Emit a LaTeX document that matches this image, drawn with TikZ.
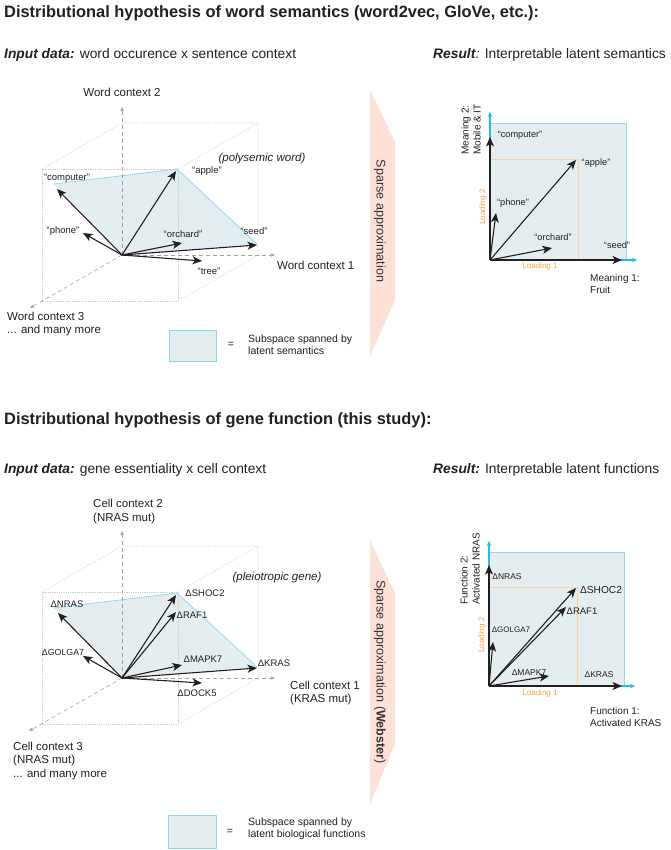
\documentclass[tikz,border=0pt]{standalone}
\usepackage{fontspec}
\setmainfont{Liberation Sans}
\usetikzlibrary{arrows.meta}
\definecolor{ink}{HTML}{231F20}
\definecolor{planefill}{HTML}{E4EEF1}
\definecolor{planeedge}{HTML}{8FD8EF}
\definecolor{cyanax}{HTML}{2DB8E8}
\definecolor{orline}{HTML}{FBD0A8}
\definecolor{ortext}{HTML}{F6A443}
\definecolor{pinkband}{HTML}{FDE1D6}
\definecolor{dotgrey}{HTML}{CACACA}
\definecolor{axgrey}{HTML}{A2A2A2}
\definecolor{bandtext}{HTML}{333333}
\newcommand\fsz[2]{\fontsize{#1}{#2}\selectfont}
\begin{document}
\begin{tikzpicture}[x=1pt,y=-1pt,
  lbl/.style={inner sep=0pt,text=ink,font=\fsz{9.5}{11}},
  slbl/.style={inner sep=0pt,text=ink,font=\fsz{8.5}{10}},
  axlbl/.style={inner sep=0pt,text=ink,font=\fsz{11.5}{13.5},align=left},
  mlbl/.style={inner sep=0pt,text=ink,font=\fsz{10}{12},align=left},
  ttl/.style={inner sep=0pt,text=ink,font=\fsz{16.4}{18}\bfseries},
  subt/.style={inner sep=0pt,text=ink,font=\fsz{13.8}{16}},
  note/.style={inner sep=0pt,text=ink,font=\fsz{11.5}{13}\itshape},
  legtxt/.style={inner sep=0pt,text=ink,font=\fsz{10.5}{12.5},align=left},
  vec/.style={draw=ink,line width=1.1pt,-{Stealth[length=9.5pt,width=8pt,inset=2.5pt]}},
  dashax/.style={draw=axgrey,line width=0.6pt,dash pattern=on 4pt off 3pt,-{Triangle[length=4pt,width=3.2pt]}},
  dotbox/.style={draw=dotgrey,line width=0.6pt,dash pattern=on 0.7pt off 1.1pt},
  pedge/.style={draw=planeedge,line width=0.8pt},
  cyax/.style={draw=cyanax,line width=1.1pt,-{Stealth[length=5pt,width=4.5pt]}},
  orl/.style={draw=orline,line width=0.8pt},
  ortx/.style={inner sep=0pt,text=ortext,font=\fsz{8}{9}},
  legbox/.style={fill=planefill,draw=planeedge,line width=0.8pt},
  bandtx/.style={inner sep=0pt,text=bandtext,font=\fsz{12.6}{14},rotate=-90}
]
\useasboundingbox (0,0) rectangle (670,850);

% ---------------- titles ----------------
\node[ttl,anchor=west] (t1) at (4,13) {Distributional hypothesis of word semantics (word2vec, GloVe, etc.):};
\node[subt,anchor=west] (s1) at (4,55) {\textbf{\textit{Input data:}} word occurence x sentence context};
\node[subt,anchor=west] (r1) at (433,55) {\textbf{\textit{Result}}\textit{:} Interpretable latent semantics};

\node[ttl,anchor=west] (t2) at (4,420) {Distributional hypothesis of gene function (this study):};
\node[subt,anchor=west] (s2) at (4,470) {\textbf{\textit{Input data:}} gene essentiality x cell context};
\node[subt,anchor=west] (r2) at (433,470) {\textbf{\textit{Result:}} Interpretable latent functions};

% ---------------- top 3D ----------------
\coordinate (o1) at (122,255);
\coordinate (ax1) at (275,255);
\coordinate (ay1) at (122,107);
\coordinate (az1) at (30,308);
\coordinate (btl1) at (122,123);
\coordinate (btr1) at (258,123);
\coordinate (bbr1) at (258,255);
\coordinate (ftl1) at (42,169);
\coordinate (ftr1) at (178,169);
\coordinate (fbr1) at (178,301);
\coordinate (fbl1) at (42,301);
\coordinate (pc1) at (54,184);
\coordinate (pa1) at (177,169);
\coordinate (ps1) at (257,244);

\fill[planefill] (o1) -- (pc1) -- (pa1) -- (ps1) -- cycle;
\draw[pedge] (pc1) -- (pa1) -- (ps1);
\draw[dotbox] (ftl1) rectangle (fbr1);
\draw[dotbox] (ftl1) -- (btl1) -- (btr1) -- (bbr1) -- (fbr1);
\draw[dotbox] (btr1) -- (ftr1);
\draw[dashax] (o1) -- (ay1);
\draw[dashax] (o1) -- (ax1);
\draw[dashax] (o1) -- (az1);

\coordinate (tcomp1) at (57,189);
\coordinate (tapple1) at (176,171);
\coordinate (tphone1) at (83,233);
\coordinate (torch1) at (182,243);
\coordinate (tseed1) at (257,245);
\coordinate (ttree1) at (202,261);
\draw[vec] (o1) -- (tcomp1);
\draw[vec] (o1) -- (tapple1);
\draw[vec] (o1) -- (tphone1);
\draw[vec] (o1) -- (torch1);
\draw[vec] (o1) -- (tseed1);
\draw[vec] (o1) -- (ttree1);

\node[lbl] (lcomp1) at (67,178) {“computer”};
\node[lbl] (lapple1) at (207,171) {“apple”};
\node[note] (lpoly) at (262,159) {(polysemic word)};
\node[lbl] (lphone1) at (63,231) {“phone”};
\node[lbl] (lorch1) at (183,234) {“orchard”};
\node[lbl] (lseed1) at (254,231) {“seed”};
\node[lbl] (ltree1) at (209,271) {“tree”};

\node[axlbl] (wc2) at (122,92) {Word context 2};
\node[axlbl,anchor=west] (wc1) at (277,265) {Word context 1};
\node[axlbl,anchor=west] (wc3) at (7,324) {Word context 3\\... and many more};

% legend top
\draw[legbox] (169,330) rectangle (216,361);
\node[lbl,font=\fsz{10.5}{12}] (eq1) at (231,345) {=};
\node[legtxt,anchor=west] (leg1) at (248,344.5) {Subspace spanned by\\latent semantics};

% ---------------- bands ----------------
\fill[pinkband] (370,90) -- (395,142) -- (395,300) -- (370,356) -- cycle;
\node[bandtx] (band1) at (380,221) {Sparse approximation};
\fill[pinkband] (370,540) -- (395,594) -- (395,744) -- (370,804) -- cycle;
\node[bandtx] (band2) at (380,672) {Sparse approximation (\textbf{Webster})};

% ---------------- top-right plot ----------------
\coordinate (o2) at (490,260);
\fill[planefill] (490,123) rectangle (626,260);
\draw[pedge] (490,123) -- (626,123) -- (626,260);
\coordinate (cx2) at (637,260);
\coordinate (cy2) at (490,112);
\draw[cyax] (o2) -- (cx2);
\draw[cyax] (o2) -- (cy2);
\draw[orl] (490,159) -- (578,159) -- (578,260);
\coordinate (tseed2) at (622,260);
\coordinate (tcomp2) at (490,137);
\coordinate (tapple2) at (576,160);
\coordinate (tphone2) at (496,213);
\coordinate (torch2) at (552,248);
\draw[vec] (o2) -- (tseed2);
\draw[vec] (o2) -- (tcomp2);
\draw[vec] (o2) -- (tapple2);
\draw[vec] (o2) -- (tphone2);
\draw[vec] (o2) -- (torch2);
\node[lbl,font=\fsz{9.2}{11}] (lcomp2) at (520,135) {“computer”};
\node[lbl,font=\fsz{9.2}{11}] (lapple2) at (596,163) {“apple”};
\node[lbl,font=\fsz{9.2}{11}] (lphone2) at (513,203) {“phone”};
\node[lbl,font=\fsz{9.2}{11}] (lorch2) at (553,237) {“orchard”};
\node[lbl,font=\fsz{9.2}{11}] (lseed2) at (617,245) {“seed”};
\node[ortx] (ld1a) at (540,266) {Loading 1};
\node[ortx,rotate=90] (ld2a) at (483,207) {Loading 2};
\node[mlbl,rotate=90,anchor=west] (m2) at (471,155) {Meaning 2:\\Mobile \& IT};
\node[mlbl,anchor=north west] (m1) at (590,274) {Meaning 1:\\Fruit};

% ---------------- bottom 3D ----------------
\coordinate (o3) at (122,678);
\coordinate (ax3) at (275,678);
\coordinate (ay3) at (122,531);
\coordinate (az3) at (29,731);
\coordinate (btl3) at (122,546);
\coordinate (btr3) at (258,546);
\coordinate (bbr3) at (258,678);
\coordinate (ftl3) at (42,592);
\coordinate (ftr3) at (178,592);
\coordinate (fbr3) at (178,724);
\coordinate (fbl3) at (42,724);
\coordinate (pn3) at (54,608);
\coordinate (pshoc3) at (177,593);
\coordinate (pk3) at (257,667);

\fill[planefill] (o3) -- (pn3) -- (pshoc3) -- (pk3) -- cycle;
\draw[pedge] (pn3) -- (pshoc3) -- (pk3);
\draw[dotbox] (ftl3) rectangle (fbr3);
\draw[dotbox] (ftl3) -- (btl3) -- (btr3) -- (bbr3) -- (fbr3);
\draw[dotbox] (btr3) -- (ftr3);
\draw[dashax] (o3) -- (ay3);
\draw[dashax] (o3) -- (ax3);
\draw[dashax] (o3) -- (az3);

\coordinate (tnras3) at (58,613);
\coordinate (tshoc3) at (176,595);
\coordinate (traf3) at (176,612);
\coordinate (tgolga3) at (83,656);
\coordinate (tmapk3) at (182,665);
\coordinate (tkras3) at (257,668);
\coordinate (tdock3) at (202,683);
\draw[vec] (o3) -- (tnras3);
\draw[vec] (o3) -- (tshoc3);
\draw[vec] (o3) -- (traf3);
\draw[vec] (o3) -- (tgolga3);
\draw[vec] (o3) -- (tmapk3);
\draw[vec] (o3) -- (tkras3);
\draw[vec] (o3) -- (tdock3);

\node[lbl] (lshoc3) at (205,593) {ΔSHOC2};
\node[lbl] (lnras3) at (67,604) {ΔNRAS};
\node[lbl] (lraf3) at (192,615) {ΔRAF1};
\node[lbl,font=\fsz{8.8}{10}] (lgolga3) at (63,652) {ΔGOLGA7};
\node[lbl] (lmapk3) at (203,659) {ΔMAPK7};
\node[lbl] (lkras3) at (274,663) {ΔKRAS};
\node[lbl] (ldock3) at (197,693) {ΔDOCK5};
\node[note] (lpleio) at (277,578) {(pleiotropic gene)};

\node[axlbl,anchor=west] (cc2) at (93,511.5) {Cell context 2\\(NRAS mut)};
\node[axlbl,anchor=west] (cc1) at (290,693) {Cell context 1\\(KRAS mut)};
\node[axlbl,anchor=west] (cc3) at (13,761) {Cell context 3\\(NRAS mut)\\... and many more};

% legend bottom
\draw[legbox] (168,815) rectangle (216,848);
\node[lbl,font=\fsz{10.5}{12}] (eq2) at (230,832) {=};
\node[legtxt,anchor=west] (leg2) at (248,829) {Subspace spanned by\\latent biological functions};

% ---------------- bottom-right plot ----------------
\coordinate (o4) at (489,686);
\fill[planefill] (489,552) rectangle (624,686);
\draw[pedge] (489,552) -- (624,552) -- (624,686);
\coordinate (cx4) at (635,686);
\coordinate (cy4) at (489,541);
\draw[cyax] (o4) -- (cx4);
\draw[cyax] (o4) -- (cy4);
\draw[orl] (489,587) -- (577,587) -- (577,686);
\coordinate (tkras4) at (622,686);
\coordinate (tnras4) at (489,565);
\coordinate (tshoc4) at (576,588);
\coordinate (traf4) at (566,607);
\coordinate (tgolga4) at (493,642);
\coordinate (tmapk4) at (549,676);
\draw[vec] (o4) -- (tkras4);
\draw[vec] (o4) -- (tnras4);
\draw[vec] (o4) -- (tshoc4);
\draw[vec] (o4) -- (traf4);
\draw[vec] (o4) -- (tgolga4);
\draw[vec] (o4) -- (tmapk4);
\node[slbl] (lnras4) at (507,577) {ΔNRAS};
\node[lbl,font=\fsz{10.2}{12}] (lshoc4) at (601,590) {ΔSHOC2};
\node[lbl,font=\fsz{9.5}{11}] (lraf4) at (582,611) {ΔRAF1};
\node[slbl,font=\fsz{8}{10}] (lgolga4) at (511,630) {ΔGOLGA7};
\node[slbl] (lmapk4) at (529,673) {ΔMAPK7};
\node[slbl] (lkras4) at (599,675) {ΔKRAS};
\node[ortx] (ld1b) at (540,693) {Loading 1};
\node[ortx,rotate=90] (ld2b) at (482,635) {Loading 2};
\node[mlbl,rotate=90,anchor=west] (f2) at (470,605) {Function 2:\\Activated NRAS};
\node[mlbl,anchor=north west] (f1) at (590,707) {Function 1:\\Activated KRAS};

\end{tikzpicture}
\end{document}
